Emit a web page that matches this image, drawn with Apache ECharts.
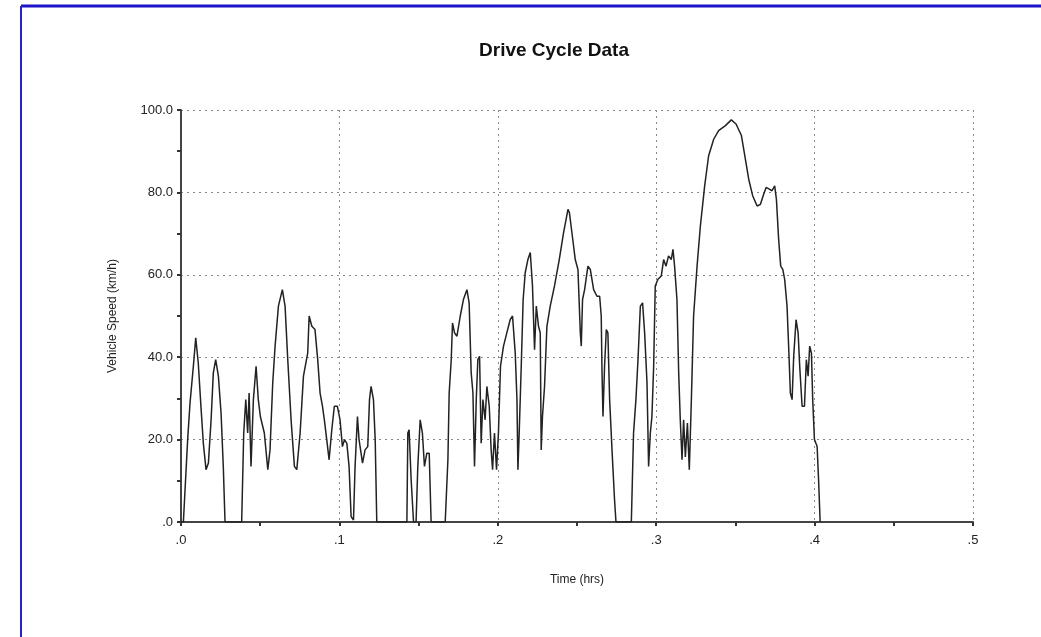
<!DOCTYPE html>
<html>
<head>
<meta charset="utf-8">
<script src="https://cdn.jsdelivr.net/npm/echarts@6/dist/echarts.min.js"></script>
<style>
html,body{margin:0;padding:0;background:#fff;}
#chart{width:1041px;height:637px;}
</style>
</head>
<body>
<div id="chart"></div>
<script>
var chartTitle = "Drive Cycle Data";
var xAxisName = "Time (hrs)";
var yAxisName = "Vehicle Speed (km/h)";

var timeHrs = [
0.000,0.0015,0.0042,0.0057,0.0078,0.0093,0.0109,0.0126,0.0141,0.0158,0.0173,0.0190,0.0204,0.0219,0.0236,0.0253,0.0267,0.0278,
0.0383,0.0396,0.0409,0.0421,0.0430,0.0442,0.0457,0.0474,0.0488,0.0501,0.0526,0.0548,0.0562,0.0579,0.0594,0.0615,0.0640,0.0657,
0.0674,0.0695,0.0716,0.0731,0.0752,0.0773,0.0794,0.0800,0.0809,0.0826,0.0846,0.0863,0.0878,0.0893,0.0905,0.0920,0.0935,0.0952,
0.0968,0.0987,0.1004,0.1019,0.1032,0.1047,0.1061,0.1074,0.1089,0.1099,0.1114,0.1124,0.1146,0.1162,0.1179,0.1190,0.1200,0.1215,
0.1226,0.1236,0.1426,0.1432,0.1440,0.1453,0.1468,0.1484,0.1495,0.1510,0.1524,0.1537,0.1552,0.1567,0.1579,
0.1668,0.1685,0.1693,0.1706,0.1714,0.1727,0.1742,0.1763,0.1783,0.1805,0.1819,0.1832,0.1843,0.1853,0.1864,0.1874,0.1885,0.1895,
0.1906,0.1920,0.1931,0.1946,0.1958,0.1967,0.1979,0.1992,0.2004,0.2017,0.2036,0.2057,0.2078,0.2093,0.2110,0.2121,0.2127,0.2135,
0.2148,0.2160,0.2173,0.2190,0.2205,0.2219,0.2232,0.2243,0.2257,0.2268,0.2274,0.2282,0.2295,0.2310,0.2331,0.2358,0.2388,0.2415,
0.2443,0.2452,0.2468,0.2489,0.2506,0.2521,0.2527,0.2535,0.2548,0.2569,0.2584,0.2605,0.2626,0.2643,0.2653,0.2658,0.2664,0.2674,
0.2685,0.2695,0.2706,0.2721,0.2737,0.2746,0.2843,0.2857,0.2872,0.2885,0.2900,0.2914,0.2927,0.2942,0.2952,0.2963,0.2973,0.2984,
0.2994,0.3011,0.3032,0.3047,0.3062,0.3078,0.3095,0.3106,0.3116,0.3131,0.3142,0.3152,0.3163,0.3173,0.3184,0.3197,0.3209,0.3222,
0.3236,0.3258,0.3279,0.3306,0.3331,0.3363,0.3394,0.3437,0.3474,0.3504,0.3538,0.3563,0.3584,0.3609,0.3637,0.3658,0.3679,0.3694,
0.3714,0.3731,0.3748,0.3759,0.3773,0.3786,0.3799,0.3811,0.3826,0.3837,0.3847,0.3858,0.3868,0.3883,0.3896,0.3906,0.3921,0.3936,
0.3948,0.3959,0.3969,0.3980,0.3988,0.3999,0.4016,0.4026,0.4035
];

var speedKmh = [
0,0,20,28.9,37.8,44.7,38.6,28,19.1,12.7,14.3,24.8,36.2,39.4,35.4,26.4,13.5,0,
0,21.6,29.7,21.6,31.3,13.5,29.7,37.8,29.7,25.6,21.6,12.7,17.5,33.7,42.7,52.4,56.4,52.4,
39.4,24.8,13.5,12.7,21.6,35.4,39.8,41,50,47.5,46.7,39.4,31.3,28.1,24.8,20,15.1,22.4,
28.1,28.1,24.8,18.3,20,19.1,13.5,1.3,0.5,13.5,25.6,20,14.3,17.5,18.3,29.7,32.9,29.7,
20,0,0,21.6,22.4,10.2,0,0,13.5,24.8,21.6,13.5,16.7,16.7,0,
0,15.1,31.3,39.4,48.3,45.9,45.1,50,54,56.4,53.2,36.2,31.3,13.5,29.7,39.4,40.2,19.1,
29.7,24.8,32.9,28.1,17.5,12.7,21.6,12.7,21.6,37.8,42.7,45.9,49.1,50,41,29.7,12.7,21.6,
37.8,54,60.5,63.7,65.4,57.3,41.8,52.4,47.5,45.9,17.5,25.6,32.9,47.5,52.4,57.3,63.7,70.2,
75.9,75.1,70.2,63.7,61.3,45.9,42.7,54,56.4,62.1,61.3,56.4,54.8,54.8,50,36.2,25.6,37.8,
46.7,45.9,29.7,17.5,5.4,0,0,21.6,29.7,39.4,52.4,53.2,45.9,33.7,13.5,21.6,25.6,37.8,
57.3,58.9,59.7,63.7,62.1,64.6,63.7,66.2,62.1,54,36.2,24.8,15.1,24.8,15.8,24,12.7,29.7,
50,62.1,71.9,81.6,88.9,92.9,95,96.2,97.6,96.6,93.8,88.1,83.2,79.2,76.7,77.1,79.6,81.2,
80.8,80.4,81.6,78.3,68.6,62.1,61.3,58.9,52.4,41.8,31.3,29.7,40.2,49.1,45.9,37.8,28.1,28.1,
39.4,35.4,42.7,41,29.7,20,18.3,9.4,0
];

var seriesData = timeHrs.map(function (t, i) { return [t, speedKmh[i]]; });

var chart = echarts.init(document.getElementById('chart'), null, {renderer: 'canvas'});
var labelFont = {color: '#222', fontSize: 13, fontFamily: 'Liberation Sans, Arial, sans-serif'};
chart.setOption({
  animation: false,
  backgroundColor: '#ffffff',
  title: {
    text: chartTitle,
    left: 549,
    top: 36,
    textAlign: 'center',
    textStyle: {fontSize: 19, fontWeight: 'bold', color: '#111', fontFamily: 'Liberation Sans, Arial, sans-serif'}
  },
  grid: {left: 181, right: 68, top: 110, bottom: 115},
  graphic: [
    {type: 'line', shape: {x1: 21, y1: 6, x2: 1041, y2: 6}, style: {stroke: '#1c14c8', lineWidth: 3}, z: 100},
    {type: 'line', shape: {x1: 21, y1: 6, x2: 21, y2: 637}, style: {stroke: '#2a22c0', lineWidth: 2}, z: 100}
  ],
  xAxis: {
    type: 'value', min: 0, max: 0.5, interval: 0.1,
    name: xAxisName, nameLocation: 'middle', nameGap: 52,
    nameTextStyle: {color: '#222', fontSize: 12, fontFamily: 'Liberation Sans, Arial, sans-serif'},
    axisLine: {show: true, onZero: false, lineStyle: {color: '#444', width: 2}},
    axisTick: {show: true, length: 4, lineStyle: {color: '#333', width: 2}},
    minorTick: {show: true, splitNumber: 2, length: 4, lineStyle: {color: '#333', width: 2}},
    splitLine: {show: true, lineStyle: {color: '#888', type: [2, 4], width: 1}},
    axisLabel: Object.assign({margin: 12, formatter: function (v) { return v.toFixed(1).replace(/^0/, ''); }}, labelFont)
  },
  yAxis: {
    type: 'value', min: 0, max: 100, interval: 20,
    name: yAxisName, nameLocation: 'middle', nameGap: 62,
    nameTextStyle: {color: '#222', fontSize: 12, fontFamily: 'Liberation Sans, Arial, sans-serif'},
    axisLine: {show: true, onZero: false, lineStyle: {color: '#444', width: 2}},
    axisTick: {show: true, length: 4, lineStyle: {color: '#333', width: 2}},
    minorTick: {show: true, splitNumber: 2, length: 4, lineStyle: {color: '#333', width: 2}},
    splitLine: {show: true, lineStyle: {color: '#888', type: [2, 4], width: 1}},
    axisLabel: Object.assign({margin: 8, formatter: function (v) { return v === 0 ? '.0' : v.toFixed(1); }}, labelFont)
  },
  series: [{
    type: 'line',
    data: seriesData,
    showSymbol: false,
    symbol: 'none',
    lineStyle: {color: '#222', width: 1.5},
    z: 3
  }]
});
</script>
</body>
</html>
